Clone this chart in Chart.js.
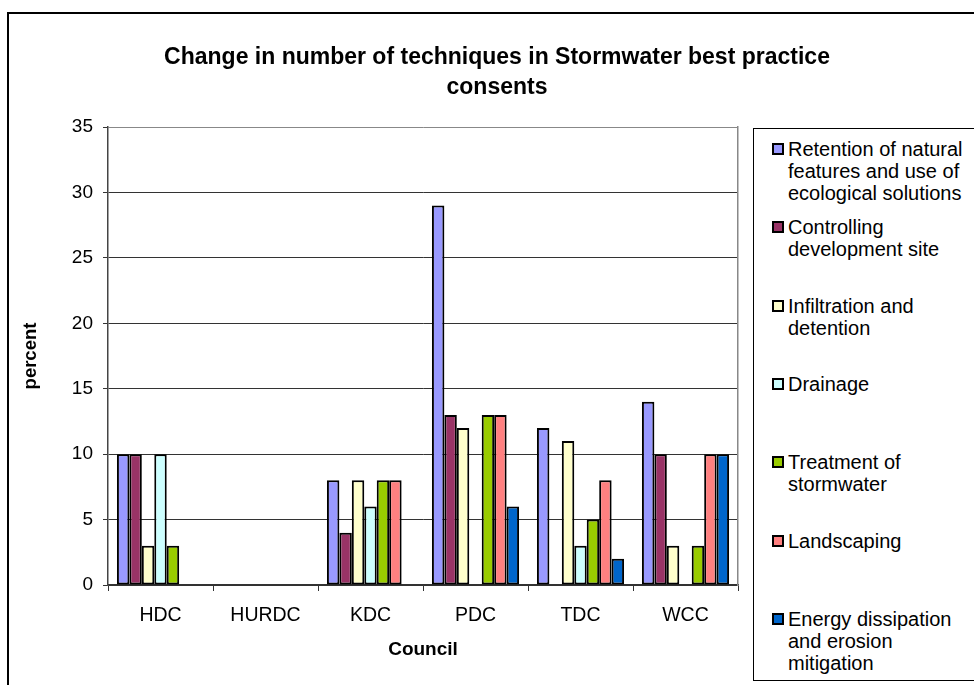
<!DOCTYPE html>
<html>
<head>
<meta charset="utf-8">
<script src="https://cdn.jsdelivr.net/npm/chart.js@4/dist/chart.umd.min.js"></script>
<style>
  body { margin: 0; background: #fff; font-family: Arial, "Liberation Sans", sans-serif; }
  #frame { position: absolute; left: 7px; top: 12px; width: 1000px; height: 700px; border: 2px solid #000; }
  #wrap { position: absolute; left: 0; top: 0; width: 974px; height: 685px; }
  #legend { position: absolute; left: 753px; top: 128px; width: 240px; height: 551px; border: 1px solid #000; background: #fff; }
  .item { position: absolute; left: 0; }
  .sw { position: absolute; left: 18px; top: 5px; width: 10px; height: 10px; border: 2px solid #000; box-sizing: border-box; width: 12px; height: 12px; }
  .txt { position: absolute; left: 34px; width: 186px; font-size: 20px; line-height: 22px; color: #000; }
</style>
</head>
<body>
<div id="frame"></div>
<div id="wrap"><canvas id="barChart" width="974" height="685"></canvas></div>
<div id="legend"></div>
<script>
const councils = ["HDC", "HURDC", "KDC", "PDC", "TDC", "WCC"];
const techniques = [
  "Retention of natural features and use of ecological solutions",
  "Controlling development site",
  "Infiltration and detention",
  "Drainage",
  "Treatment of stormwater",
  "Landscaping",
  "Energy dissipation and erosion mitigation",
];
const retention = [10, 0, 8, 29, 12, 14];
const controlling = [10, 0, 4, 13, 0, 10];
const infiltration = [3, 0, 8, 12, 11, 3];
const drainage = [10, 0, 6, 0, 3, 0];
const treatment = [3, 0, 8, 13, 5, 3];
const landscaping = [0, 0, 8, 13, 8, 10];
const energy = [0, 0, 0, 6, 2, 10];
const colours = ["#9999FF", "#993366", "#FFFFCC", "#CCFFFF", "#99CC00", "#FF8080", "#0066CC"];
const yTicks = [0, 5, 10, 15, 20, 25, 30, 35];

const series = [retention, controlling, infiltration, drainage, treatment, landscaping, energy];

const data = {
  labels: councils,
  datasets: series.map((values, i) => ({
    label: techniques[i],
    data: values,
    backgroundColor: colours[i],
    borderColor: "#000",
    borderWidth: 2,
    borderSkipped: false,
    barPercentage: 1,
    categoryPercentage: 0.83,
  })),
};

const ctx = document.getElementById("barChart");
const myChart = new Chart(ctx, {
  type: "bar",
  data: data,
  options: {
    responsive: false,
    animation: false,
    layout: { padding: { left: 20, right: 0, top: 0, bottom: 0 } },
    plugins: {
      legend: { display: false },
      tooltip: { enabled: false },
      title: {
        display: true,
        text: ["Change in number of techniques in Stormwater best practice", "consents"],
        color: "#000",
        font: { family: "Arial, 'Liberation Sans'", size: 23, weight: "bold", lineHeight: 30 / 23 },
        padding: { top: 43, bottom: 24 },
      },
    },
    scales: {
      x: {
        grid: { drawOnChartArea: false, drawTicks: true, tickLength: 6, color: "#333", offset: true },
        border: { color: "#333", width: 1.5 },
        ticks: { color: "#000", padding: 13, font: { family: "Arial, 'Liberation Sans'", size: 19.5 } },
        title: {
          display: true,
          text: "Council",
          color: "#000",
          font: { family: "Arial, 'Liberation Sans'", size: 19, weight: "bold" },
          padding: { top: 0, bottom: 24 },
        },
        afterFit: (s) => { s.height = 100; },
      },
      y: {
        min: 0,
        max: 35,
        afterBuildTicks: (s) => { s.ticks = yTicks.map((v) => ({ value: v })); },
        grid: {
          color: (c) => (c.tick && c.tick.value === 35 ? "#888" : "#333"),
          tickColor: "#333",
          tickLength: 5,
          lineWidth: 1,
        },
        border: { color: "#444", width: 1.5 },
        ticks: { color: "#000", padding: 10, font: { family: "Arial, 'Liberation Sans'", size: 19 } },
        title: {
          display: true,
          text: "percent",
          color: "#000",
          font: { family: "Arial, 'Liberation Sans'", size: 18.5, weight: "bold" },
          padding: { top: 0, bottom: 0 },
        },
        afterFit: (s) => { s.width = 88; },
      },
      y2: {
        position: "right",
        grid: { display: false, drawTicks: false },
        border: { color: "#888", width: 1.5 },
        ticks: { display: false },
        afterFit: (s) => { s.width = 236; },
      },
    },
  },
});

// legend built from the chart's datasets
const legend = document.getElementById("legend");
myChart.data.datasets.forEach((ds, i) => {
  const item = document.createElement("div");
  item.className = "item";
  item.style.top = (9 + i * 78.3) + "px";
  item.innerHTML = '<div class="sw" style="background:' + ds.backgroundColor + '"></div>' +
    '<div class="txt">' + ds.label + "</div>";
  legend.appendChild(item);
});
</script>
</body>
</html>
